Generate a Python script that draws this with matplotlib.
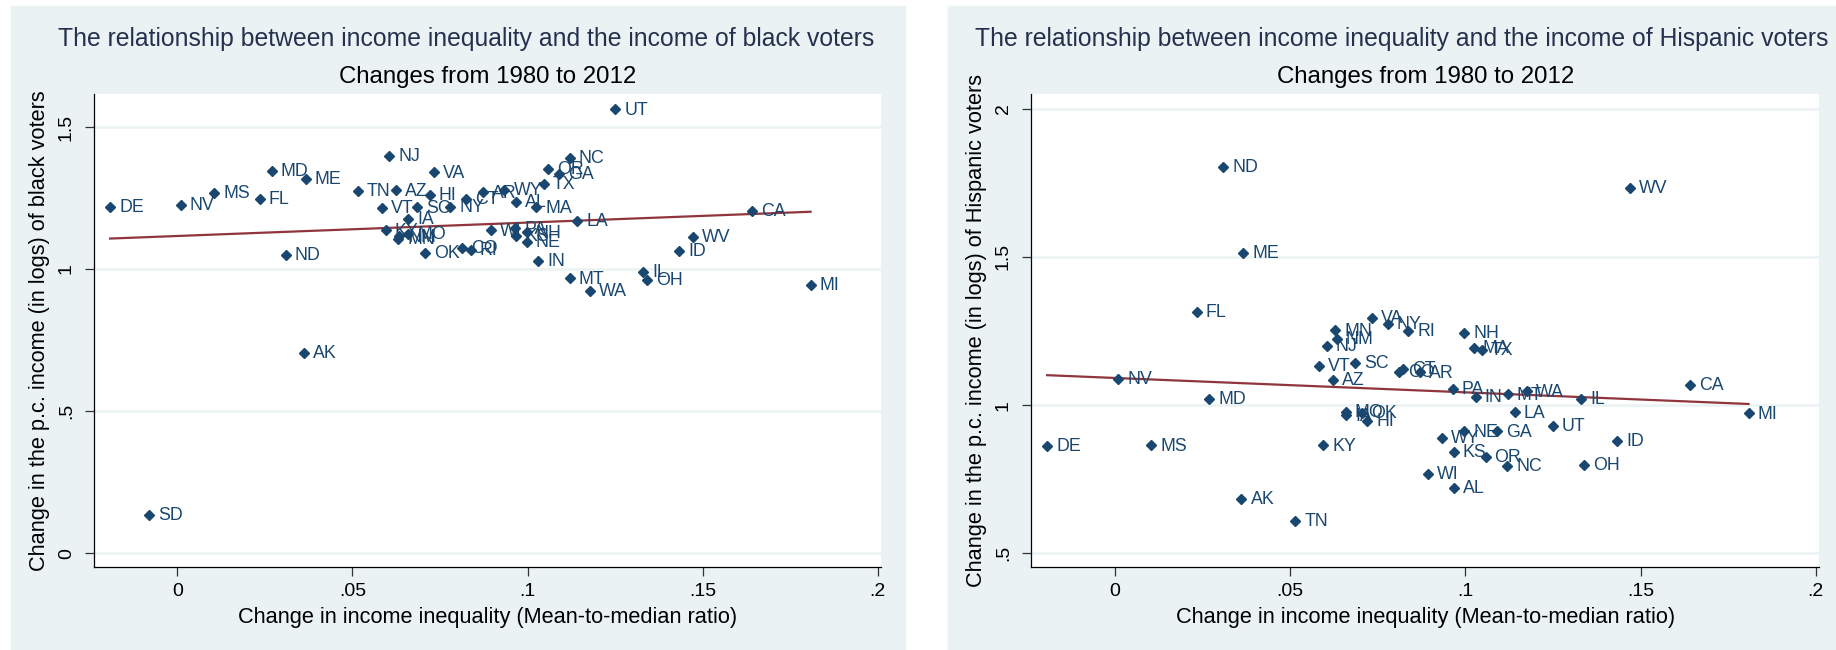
import numpy as np
import matplotlib
matplotlib.use("Agg")
import matplotlib.pyplot as plt
from matplotlib.patches import Rectangle
from matplotlib.ticker import FuncFormatter

plt.rcParams['font.family'] = ['Liberation Sans', 'DejaVu Sans']

# state codes and change in income inequality (same x for both panels)
states = ['AL', 'AK', 'AZ', 'AR', 'CA', 'CO', 'CT', 'DE', 'FL', 'GA',
          'HI', 'ID', 'IL', 'IN', 'IA', 'KS', 'KY', 'LA', 'ME', 'MD',
          'MA', 'MI', 'MN', 'MS', 'MO', 'MT', 'NE', 'NV', 'NH', 'NJ',
          'NM', 'NY', 'NC', 'ND', 'OH', 'OK', 'OR', 'PA', 'RI', 'SC',
          'SD', 'TN', 'TX', 'UT', 'VT', 'VA', 'WA', 'WV', 'WI', 'WY']
ineq = [0.0967, 0.0362, 0.0624, 0.0872, 0.1642, 0.0812, 0.0824, -0.0192, 0.0235, 0.1090,
        0.0721, 0.1433, 0.1330, 0.1030, 0.0660, 0.0967, 0.0595, 0.1142, 0.0367, 0.0270,
        0.1025, 0.1808, 0.0630, 0.0105, 0.0660, 0.1121, 0.0998, 0.0010, 0.0997, 0.0605,
        0.0634, 0.0779, 0.1120, 0.0310, 0.1340, 0.0706, 0.1058, 0.0965, 0.0838, 0.0685,
        -0.0080, 0.0516, 0.1047, 0.1250, 0.0584, 0.0733, 0.1177, 0.1471, 0.0895, 0.0934]

# change in log per-capita income, black voters
black = [1.237, 0.705, 1.277, 1.270, 1.205, 1.073, 1.246, 1.218, 1.246, 1.335,
         1.261, 1.065, 0.991, 1.028, 1.175, 1.116, 1.136, 1.170, 1.316, 1.346,
         1.217, 0.945, 1.105, 1.267, 1.123, 0.967, 1.096, 1.226, 1.129, 1.398,
         1.115, 1.218, 1.390, 1.049, 0.961, 1.058, 1.351, 1.143, 1.066, 1.217,
         0.135, 1.275, 1.299, 1.562, 1.214, 1.340, 0.923, 1.112, 1.136, 1.278]

# change in log per-capita income, Hispanic voters (no SD)
hispanic = [0.722, 0.683, 1.084, 1.110, 1.069, 1.113, 1.122, 0.862, 1.314, 0.911,
            0.948, 0.880, 1.021, 1.028, 0.965, 0.841, 0.864, 0.975, 1.514, 1.021,
            1.193, 0.972, 1.252, 0.864, 0.976, 1.036, 0.911, 1.087, 1.243, 1.200,
            1.224, 1.274, 0.795, 1.803, 0.798, 0.973, 0.824, 1.054, 1.251, 1.142,
            np.nan, 0.609, 1.187, 0.931, 1.132, 1.294, 1.046, 1.732, 0.768, 0.889]

xticks = [0, 0.05, 0.1, 0.15, 0.2]
yticks_black = [0, 0.5, 1, 1.5]
yticks_hisp = [0.5, 1, 1.5, 2]

BG = '#EAF2F3'
NAVY = '#1A476F'
MAROON = '#90353B'
W, H = 1836, 650


def stata_fmt(v, pos=None):
    s = ('%g' % v)
    if s.startswith('0.'):
        s = s[1:]
    return s


fig = plt.figure(figsize=(W / 100, H / 100), dpi=100)
fig.patch.set_facecolor('white')

# panel backgrounds
fig.patches.append(Rectangle((11 / W, 0), (905 - 11) / W, 1 - 6 / H,
                             transform=fig.transFigure, color=BG, zorder=-10))
fig.patches.append(Rectangle((948 / W, 0), (W - 948) / W, 1 - 6 / H,
                             transform=fig.transFigure, color=BG, zorder=-10))

panels = [
    dict(y=black, ax=[94.3, 881], ylim=(-0.049, 1.615), yticks=yticks_black,
         title='The relationship between income inequality and the income of black voters',
         title_x=466, ylabel='Change in the p.c. income (in logs) of black voters'),
    dict(y=hispanic, ax=[1031.4, 1819], ylim=(0.454, 2.048), yticks=yticks_hisp,
         title='The relationship between income inequality and the income of Hispanic voters',
         title_x=1402, ylabel='Change in the p.c. income (in logs) of Hispanic voters'),
]

for p in panels:
    x0, x1 = p['ax']
    ax = fig.add_axes([x0 / W, (H - 567) / H, (x1 - x0) / W, (567 - 94.3) / H])
    ax.set_zorder(5)
    ax.set_facecolor('white')
    x = np.array(ineq)
    y = np.array(p['y'], dtype=float)
    ok = ~np.isnan(y)

    for v in p['yticks']:
        ax.axhline(v, color=BG, lw=1.8, zorder=1)

    ax.plot(x[ok], y[ok], 'D', color=NAVY, markersize=4.7, zorder=3)
    for s, xv, yv in zip(np.array(states)[ok], x[ok], y[ok]):
        ax.annotate(s, (xv, yv), xytext=(6.5, -0.5), textcoords='offset points',
                    va='center', ha='left', fontsize=12.8, color=NAVY, zorder=4)

    b, a = np.polyfit(x[ok], y[ok], 1)
    xs = np.array([x[ok].min(), x[ok].max()])
    ax.plot(xs, a + b * xs, color=MAROON, lw=1.6, zorder=2)

    ax.set_xlim(-0.0237, 0.2009)
    ax.set_ylim(*p['ylim'])
    ax.set_xticks(xticks)
    ax.set_yticks(p['yticks'])
    ax.xaxis.set_major_formatter(FuncFormatter(stata_fmt))
    ax.yaxis.set_major_formatter(FuncFormatter(stata_fmt))
    ax.tick_params(axis='both', direction='out', length=6.5, width=0.9,
                   color='#333333', labelsize=14)
    ax.tick_params(axis='x', pad=5)
    ax.tick_params(axis='y', pad=7.5)
    plt.setp(ax.get_yticklabels(), rotation=90, va='center')
    for side in ['top', 'right']:
        ax.spines[side].set_visible(False)
    for side in ['left', 'bottom']:
        ax.spines[side].set_linewidth(0.9)
    ax.set_xlabel('Change in income inequality (Mean-to-median ratio)',
                  fontsize=15.7, labelpad=5)
    ax.set_ylabel(p['ylabel'], fontsize=15.7, labelpad=6)

    fig.text(p['title_x'] / W, 1 - 39 / H, p['title'], ha='center', va='center',
             fontsize=17.8, color='#25304F')
    fig.text((x0 + x1) / 2 / W, 1 - 77 / H, 'Changes from 1980 to 2012',
             ha='center', va='center', fontsize=17.3, color='black')

fig.savefig('out.png', dpi=100, facecolor=fig.get_facecolor())
